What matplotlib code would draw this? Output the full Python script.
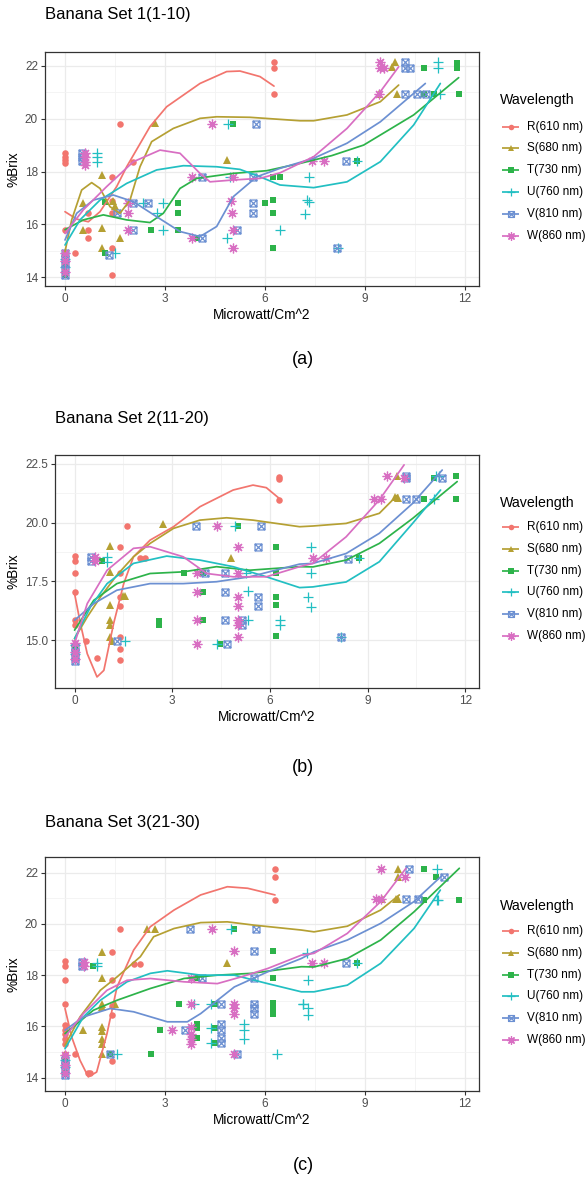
import numpy as np
import matplotlib.pyplot as plt
from matplotlib.path import Path

plt.rcParams['font.family'] = ['Liberation Sans', 'DejaVu Sans']

# ---------------- data ----------------
series = ["R(610 nm)", "S(680 nm)", "T(730 nm)", "U(760 nm)", "V(810 nm)", "W(860 nm)"]
colors = ["#F2756E", "#B5A033", "#2DB34A", "#22BFC2", "#6C90D2", "#D86EC2"]

# Set 1 points
s1_R_pts = [(0, 18.71), (0, 18.56), (0, 18.44), (0, 18.31), (0, 15.79), (0, 14.2), (0, 14.9), (0.3, 14.9),
            (0.7, 16.42), (0.7, 15.79), (0.7, 15.5), (1.4, 17.8), (1.4, 16.9), (1.4, 16.42), (1.4, 15.1),
            (1.4, 14.1), (1.65, 19.8), (2.05, 18.37), (6.27, 22.13), (6.27, 21.9), (6.27, 20.92)]
s1_S_pts = [(0, 14.3), (0, 14.9), (0.55, 16.82), (0.55, 15.8), (1.1, 17.87), (1.1, 15.85), (1.1, 15.1),
            (1.45, 16.9), (1.5, 16.7), (1.65, 15.5), (2.7, 19.82), (4.85, 18.44), (9.91, 22.13),
            (9.8, 21.96), (9.41, 20.92), (9.96, 20.92)]
s1_T_pts = [(0, 14.1), (0, 14.5), (1.2, 14.9), (1.2, 16.86), (2.57, 15.8), (3.4, 16.82), (3.4, 16.42),
            (3.4, 15.8), (3.95, 15.5), (5.03, 19.8), (6.0, 16.82), (6.23, 16.92), (6.23, 16.42),
            (6.23, 15.1), (6.23, 17.8), (6.45, 17.8), (8.76, 18.4), (10.76, 21.9), (11.76, 22.1),
            (11.76, 21.9), (11.81, 20.92), (10.76, 20.92), (11.08, 20.92)]
s1_U_pts = [(0, 14.4), (0, 14.7), (0.95, 18.71), (0.95, 18.54), (0.95, 18.37), (1.5, 14.9), (2.35, 16.8),
            (2.75, 16.42), (2.95, 16.8), (2.95, 15.8), (4.85, 15.5), (4.9, 19.8), (4.95, 17.8),
            (6.45, 15.79), (7.31, 17.8), (7.25, 16.92), (7.31, 16.86), (7.21, 16.38), (8.2, 15.1),
            (8.76, 18.4), (11.18, 22.13), (11.18, 21.9), (11.26, 20.92)]
s1_V_pts = [(0, 14.1), (0, 14.3), (0, 14.5), (0, 14.7), (0, 14.9), (0.5, 18.7), (0.5, 18.56), (0.5, 18.4),
            (1.33, 14.85), (1.57, 16.42), (2.05, 16.8), (2.05, 15.8), (2.5, 16.8), (4.12, 15.5),
            (4.12, 17.8), (5.15, 15.8), (5.72, 19.8), (5.65, 16.82), (5.65, 16.42), (5.65, 17.8),
            (8.15, 15.1), (8.43, 18.4), (10.21, 22.13), (10.21, 21.9), (10.35, 21.9), (10.21, 20.92),
            (10.57, 20.92), (10.82, 20.92)]
s1_W_pts = [(0, 14.2), (0, 14.6), (0, 14.9), (0.6, 18.7), (0.6, 18.54), (0.6, 18.37), (0.6, 18.25),
            (1.9, 16.42), (1.9, 16.8), (1.9, 15.8), (3.8, 17.8), (3.8, 15.5), (4.4, 19.8), (4.97, 16.9),
            (5.0, 16.42), (5.03, 15.8), (5.03, 15.1), (5.05, 17.8), (7.4, 18.4), (7.76, 18.4),
            (9.46, 22.13), (9.46, 21.9), (9.56, 21.9), (9.41, 20.92)]

# Set 1 smooth curves
s1_R_fit = [(0, 16.48), (0.35, 16.2), (0.7, 16.1), (1.05, 16.48), (1.55, 17.43), (1.85, 18.18), (2.55, 19.7),
            (3.05, 20.45), (4.05, 21.33), (4.85, 21.78), (5.25, 21.8), (5.85, 21.59), (6.27, 21.23)]
s1_S_fit = [(0, 14.97), (0.2, 16.17), (0.5, 17.3), (0.8, 17.58), (1.05, 17.36), (1.35, 16.67), (1.65, 16.42),
            (1.95, 16.92), (2.25, 18.18), (2.6, 19.13), (3.25, 19.63), (4.05, 20.01), (4.55, 20.07),
            (5.55, 20.05), (7.05, 19.92), (7.46, 19.92), (8.46, 20.14), (9.46, 20.64), (10.01, 21.27)]
s1_T_fit = [(0, 15.8), (0.55, 16.17), (1.15, 16.36), (1.85, 16.17), (2.55, 16.07), (2.95, 16.42),
            (3.45, 17.36), (3.95, 17.74), (5.05, 17.93), (6.05, 18.03), (7.06, 18.31), (8.0, 18.6),
            (8.96, 19.0), (10.46, 20.14), (11.81, 21.55)]
s1_U_fit = [(0, 15.22), (0.45, 16.17), (1.05, 16.92), (1.85, 17.55), (2.75, 18.06), (3.55, 18.22),
            (4.55, 18.18), (5.25, 18.08), (5.85, 17.8), (6.45, 17.49), (7.46, 17.39), (8.46, 17.61),
            (9.46, 18.37), (10.46, 19.76), (11.26, 21.33)]
s1_V_fit = [(0, 15.41), (0.35, 16.42), (0.85, 16.92), (1.45, 17.11), (2.05, 16.86), (2.75, 16.29),
            (3.45, 15.73), (4.05, 15.54), (4.55, 15.92), (5.05, 17.05), (5.75, 17.8), (6.45, 18.12),
            (7.46, 18.5), (8.46, 19.07), (9.46, 19.88), (10.81, 21.33)]
s1_W_fit = [(0, 15.66), (0.55, 16.55), (1.25, 17.43), (2.05, 18.37), (2.85, 18.81), (3.45, 18.69),
            (4.05, 17.93), (4.35, 17.61), (5.05, 17.68), (5.85, 17.74), (6.45, 17.95), (7.46, 18.56),
            (8.46, 19.63), (9.46, 21.02), (10.01, 21.96)]

# Set 2 points
s2_R_pts = [(0, 18.59), (0, 18.38), (0, 17.84), (0, 17.06), (0, 15.85), (0, 15.64), (0, 14.86), (0.34, 14.97),
            (0.69, 14.25), (1.41, 18.98), (1.41, 17.87), (1.39, 16.85), (1.39, 16.45), (1.41, 15.14),
            (1.41, 14.64), (1.41, 14.15), (1.61, 19.86), (2.02, 18.48), (2.17, 18.48), (6.28, 21.93),
            (6.28, 21.85), (6.28, 20.97)]
s2_S_pts = [(0, 14.9), (1.1, 19.02), (1.1, 17.91), (1.1, 16.49), (1.1, 15.85), (1.1, 15.64), (1.1, 15.14),
            (1.15, 14.97), (1.49, 16.87), (1.54, 16.87), (2.71, 19.93), (4.81, 18.5), (9.89, 21.99),
            (9.92, 21.04), (9.85, 21.1)]
s2_T_pts = [(0, 14.2), (0, 14.6), (0.85, 18.37), (2.58, 15.82), (2.58, 15.64), (3.37, 17.87), (3.96, 17.87),
            (3.96, 17.06), (3.96, 15.85), (4.46, 14.86), (5.03, 19.86), (6.18, 18.98), (6.18, 17.87),
            (6.18, 16.85), (6.18, 16.49), (6.18, 15.17), (8.75, 18.48), (10.73, 21.0), (11.04, 21.92),
            (11.7, 21.99), (11.72, 21.0)]
s2_U_pts = [(0, 14.4), (0, 14.8), (1.0, 18.55), (1.0, 18.34), (1.56, 14.97), (4.36, 14.83), (4.92, 19.86),
            (5.28, 17.87), (5.33, 17.09), (5.33, 15.85), (6.3, 15.85), (6.3, 15.64), (7.27, 18.97),
            (7.27, 17.87), (7.17, 16.85), (7.27, 16.43), (8.19, 15.14), (8.75, 18.48), (11.09, 21.99),
            (11.2, 21.99), (11.04, 21.0)]
s2_V_pts = [(0, 14.1), (0, 14.3), (0, 14.5), (0, 14.7), (0.51, 18.55), (0.51, 18.38), (1.3, 14.97),
            (3.73, 19.86), (4.0, 17.87), (4.62, 17.87), (4.62, 17.06), (4.62, 15.85), (4.67, 14.86),
            (5.13, 15.85), (5.13, 15.64), (5.74, 19.86), (5.64, 18.98), (5.64, 16.85), (5.64, 16.45),
            (8.19, 15.14), (8.41, 18.45), (10.17, 21.99), (10.17, 21.9), (10.17, 21.0), (10.48, 21.0),
            (11.29, 21.89)]
s2_W_pts = [(0, 14.2), (0, 14.5), (0, 14.9), (0.64, 18.55), (0.64, 18.38), (3.77, 17.06), (3.77, 15.85),
            (3.77, 14.83), (4.36, 19.86), (3.75, 17.87), (5.03, 18.98), (5.03, 17.87), (5.03, 16.85),
            (5.03, 16.45), (5.03, 15.85), (5.03, 15.64), (5.03, 15.14), (7.32, 18.48), (7.73, 18.48),
            (9.2, 21.0), (9.41, 21.0), (9.58, 21.99), (10.12, 21.9)]

# Set 2 smooth curves
s2_R_fit = [(0, 16.99), (0.18, 15.71), (0.39, 14.43), (0.69, 13.44), (0.9, 13.72), (1.2, 15.71),
            (1.51, 17.41), (1.81, 18.55), (2.32, 19.26), (3.04, 19.83), (3.85, 20.68), (4.87, 21.39),
            (5.48, 21.6), (5.89, 21.49), (6.28, 21.04)]
s2_S_fit = [(0, 15.07), (0.39, 15.99), (0.8, 16.85), (1.3, 17.77), (1.81, 18.55), (2.32, 19.12),
            (3.04, 19.76), (3.85, 20.11), (4.67, 20.21), (5.48, 20.11), (6.91, 19.83), (7.32, 19.86),
            (8.34, 19.97), (9.36, 20.4), (9.92, 21.18)]
s2_T_fit = [(0, 15.43), (0.59, 16.7), (1.3, 17.41), (2.32, 17.84), (3.34, 17.91), (4.36, 18.13),
            (5.38, 17.98), (6.91, 18.13), (7.32, 18.12), (8.34, 18.41), (9.36, 19.12), (10.38, 20.18),
            (11.75, 21.75)]
s2_U_fit = [(0, 15.07), (0.49, 16.42), (1.0, 17.41), (1.81, 18.27), (2.83, 18.58), (3.85, 18.41),
            (4.87, 18.13), (5.89, 17.7), (6.91, 17.24), (7.32, 17.27), (8.34, 17.48), (9.36, 18.34),
            (10.38, 19.97), (11.24, 21.39)]
s2_V_fit = [(0, 15.85), (0.59, 16.56), (1.3, 17.13), (2.32, 17.41), (3.34, 17.41), (4.36, 17.49),
            (5.38, 17.7), (6.91, 18.24), (7.32, 18.27), (8.34, 18.69), (9.36, 19.55), (10.38, 20.82),
            (11.29, 22.24)]
s2_W_fit = [(0, 14.86), (0.39, 16.56), (1.0, 17.98), (1.81, 18.91), (2.32, 18.98), (3.34, 18.55),
            (4.06, 17.84), (4.87, 17.7), (5.89, 17.7), (6.91, 18.13), (7.32, 18.27), (8.34, 19.4),
            (9.36, 20.97), (10.12, 22.46)]

# Set 3 points
s3_R_pts = [(0, 18.56), (0, 18.36), (0, 17.8), (0, 16.87), (0, 16.05), (0, 15.85), (0, 15.72), (0, 15.52),
            (0, 15.33), (0, 14.94), (0.3, 14.94), (0.7, 14.18), (0.75, 14.18), (1.41, 18.91), (1.41, 17.83),
            (1.41, 16.79), (1.41, 16.44), (1.41, 14.64), (1.66, 19.8), (2.06, 18.43), (2.26, 18.43),
            (6.3, 22.13), (6.3, 21.82), (6.3, 20.93)]
s3_S_pts = [(0, 14.9), (0.55, 15.85), (1.1, 18.91), (1.1, 17.87), (1.1, 16.87), (1.1, 16.76), (1.1, 15.98),
            (1.1, 15.82), (1.1, 15.52), (1.1, 15.33), (1.1, 14.94), (1.51, 16.87), (2.46, 19.82),
            (2.71, 19.82), (4.87, 18.46), (9.99, 22.14), (9.99, 21.82), (9.92, 20.96), (9.99, 20.96),
            (9.5, 20.96)]
s3_T_pts = [(0, 14.2), (0, 14.6), (0.85, 18.36), (1.35, 14.94), (2.58, 14.94), (2.84, 15.85), (3.42, 16.87),
            (3.97, 17.87), (3.97, 16.08), (3.97, 15.92), (3.97, 15.55), (4.49, 16.87), (4.49, 15.92),
            (4.49, 15.35), (5.06, 19.82), (6.23, 18.94), (6.23, 17.87), (6.23, 16.9), (6.23, 16.7),
            (6.23, 16.5), (8.77, 18.46), (10.78, 22.13), (11.13, 21.82), (10.78, 20.94), (11.83, 20.94)]
s3_U_pts = [(0, 14.4), (0, 14.7), (0.95, 18.46), (0.95, 18.36), (1.56, 14.94), (3.87, 16.87), (4.37, 16.87),
            (4.37, 15.92), (4.37, 15.35), (4.97, 19.82), (5.38, 16.08), (5.38, 15.85), (5.38, 15.52),
            (6.36, 14.94), (7.13, 16.87), (7.27, 18.85), (7.3, 17.8), (7.15, 16.89), (7.3, 16.7),
            (7.3, 16.44), (8.77, 18.46), (11.15, 22.13), (11.15, 20.94), (11.2, 20.94)]
s3_V_pts = [(0, 14.1), (0, 14.3), (0, 14.5), (0, 14.7), (0.5, 18.52), (0.5, 18.36), (1.35, 14.94),
            (3.74, 19.82), (3.6, 15.85), (4.1, 17.87), (4.67, 16.87), (4.67, 16.08), (4.67, 15.85),
            (4.67, 15.56), (4.67, 15.35), (5.16, 14.94), (5.73, 19.82), (5.66, 18.94), (5.66, 17.87),
            (5.66, 16.87), (5.66, 16.7), (5.66, 16.5), (8.44, 18.46), (10.33, 22.13), (10.23, 20.96),
            (10.58, 20.96), (11.36, 21.82)]
s3_W_pts = [(0, 14.2), (0, 14.5), (0, 14.9), (0.58, 18.52), (0.58, 18.36), (3.21, 15.85), (3.79, 17.87),
            (3.79, 16.87), (3.79, 15.98), (3.79, 15.72), (3.79, 15.52), (3.79, 15.33), (4.42, 19.82),
            (5.06, 18.94), (5.06, 16.87), (5.06, 16.7), (5.06, 16.5), (5.06, 14.94), (7.42, 18.46),
            (7.77, 18.46), (9.47, 22.13), (9.34, 20.96), (9.47, 20.96), (10.2, 21.82)]

# Set 3 smooth curves
s3_R_fit = [(0, 16.7), (0.2, 15.59), (0.45, 14.68), (0.7, 14.03), (0.95, 14.22), (1.26, 15.72),
            (1.56, 17.54), (2.06, 18.98), (2.56, 19.89), (3.27, 20.54), (4.07, 21.13), (4.87, 21.45),
            (5.48, 21.39), (6.3, 21.13)]
s3_S_fit = [(0, 15.26), (0.45, 16.37), (1.06, 17.41), (1.56, 17.93), (2.26, 18.72), (2.66, 19.5),
            (3.27, 19.82), (4.07, 20.05), (4.87, 20.08), (5.68, 19.95), (7.09, 19.76), (7.47, 19.69),
            (8.47, 19.91), (9.47, 20.54), (10.03, 21.13)]
s3_T_fit = [(0, 15.72), (0.85, 16.63), (1.56, 17.02), (2.56, 17.48), (3.57, 17.87), (4.57, 18.0),
            (5.58, 18.07), (7.09, 18.33), (7.47, 18.32), (8.47, 18.65), (9.47, 19.37), (10.47, 20.47),
            (11.83, 22.17)]
s3_U_fit = [(0, 15.13), (0.55, 16.37), (1.06, 17.02), (1.86, 17.74), (2.56, 18.07), (3.07, 18.17),
            (4.07, 18.0), (5.08, 18.0), (6.08, 17.67), (7.09, 17.35), (7.47, 17.35), (8.47, 17.61),
            (9.47, 18.46), (10.47, 19.82), (11.26, 21.32)]
s3_V_fit = [(0, 15.85), (0.55, 16.37), (1.36, 16.7), (2.06, 16.57), (3.07, 16.18), (3.67, 16.18),
            (4.07, 16.5), (5.08, 17.54), (6.08, 18.13), (7.09, 18.65), (7.47, 18.91), (8.47, 19.37),
            (9.47, 20.02), (10.47, 20.87), (11.33, 21.91)]
s3_W_fit = [(0, 15.59), (0.55, 16.5), (1.26, 17.41), (1.86, 17.8), (2.56, 17.87), (3.57, 17.74),
            (4.57, 17.67), (5.28, 17.93), (6.08, 18.26), (7.09, 18.78), (7.47, 18.85), (8.47, 19.63),
            (9.47, 20.87), (10.23, 22.17)]

titles = ["Banana Set 1(1-10)", "Banana Set 2(11-20)", "Banana Set 3(21-30)"]
captions = ["(a)", "(b)", "(c)"]
x_ticks = [0, 3, 6, 9, 12]
y_ticks_1 = [14, 16, 18, 20, 22]
y_ticks_2 = [15.0, 17.5, 20.0, 22.5]
y_ticks_3 = [14, 16, 18, 20, 22]

# ---------------- markers ----------------
box_x = Path([(-1, -1), (1, -1), (1, 1), (-1, 1), (-1, -1), (-1, -1), (1, 1), (-1, 1), (1, -1)],
             [Path.MOVETO, Path.LINETO, Path.LINETO, Path.LINETO, Path.CLOSEPOLY,
              Path.MOVETO, Path.LINETO, Path.MOVETO, Path.LINETO])
markers = ['o', '^', 's', '+', box_x, (8, 2, 0)]
msizes = [4.7, 5.2, 4.3, 7.5, 5.0, 7.0]
filled = [True, True, True, False, False, False]

W, H = 587, 1190
fig = plt.figure(figsize=(W / 100, H / 100), dpi=100)


def px_axes(left, top, right, bottom):
    return fig.add_axes([left / W, 1 - bottom / H, (right - left) / W, (bottom - top) / H])


def draw_panel(ax, pts, fits, yticks, ylim, ytfmt):
    for i in range(6):
        px = [p[0] for p in pts[i]]
        py = [p[1] for p in pts[i]]
        c = colors[i]
        if filled[i]:
            ax.plot(px, py, ls='none', marker=markers[i], ms=msizes[i], color=c, mec=c, mew=0)
        else:
            ax.plot(px, py, ls='none', marker=markers[i], ms=msizes[i], color=c, mfc='none', mec=c, mew=0.9)
    for i in range(6):
        fx = [p[0] for p in fits[i]]
        fy = [p[1] for p in fits[i]]
        ax.plot(fx, fy, color=colors[i], lw=1.25, solid_capstyle='round', solid_joinstyle='round')
    ax.set_xlim(-0.6, 12.42)
    ax.set_ylim(*ylim)
    ax.set_xticks(x_ticks)
    ax.set_yticks(yticks)
    ax.set_yticklabels([ytfmt.format(v) for v in yticks])
    ax.set_xticks([1.5, 4.5, 7.5, 10.5], minor=True)
    ax.set_yticks([(a + b) / 2 for a, b in zip(yticks[:-1], yticks[1:])], minor=True)
    ax.grid(True, which='major', color='#EBEBEB', lw=0.9)
    ax.grid(True, which='minor', color='#F3F3F3', lw=0.6)
    ax.set_axisbelow(True)
    for s in ax.spines.values():
        s.set_color('#333333')
        s.set_linewidth(0.9)
    ax.tick_params(which='major', length=3, color='#333333', labelsize=8.5, labelcolor='#4D4D4D', pad=2)
    ax.tick_params(which='minor', length=0)
    ax.set_xlabel("Microwatt/Cm^2", fontsize=9.8, color='black', labelpad=2)
    ax.set_ylabel("%Brix", fontsize=9.8, color='black', labelpad=3)


panel_boxes = [(45, 52, 479, 286), (55, 455, 479, 688), (45, 857, 479, 1091)]
ylims = [(13.67, 22.52), (12.97, 22.88), (13.48, 22.61)]
yticks_all = [y_ticks_1, y_ticks_2, y_ticks_3]
fmts = ["{:g}", "{:.1f}", "{:g}"]
all_pts = [[s1_R_pts, s1_S_pts, s1_T_pts, s1_U_pts, s1_V_pts, s1_W_pts],
           [s2_R_pts, s2_S_pts, s2_T_pts, s2_U_pts, s2_V_pts, s2_W_pts],
           [s3_R_pts, s3_S_pts, s3_T_pts, s3_U_pts, s3_V_pts, s3_W_pts]]
all_fits = [[s1_R_fit, s1_S_fit, s1_T_fit, s1_U_fit, s1_V_fit, s1_W_fit],
            [s2_R_fit, s2_S_fit, s2_T_fit, s2_U_fit, s2_V_fit, s2_W_fit],
            [s3_R_fit, s3_S_fit, s3_T_fit, s3_U_fit, s3_V_fit, s3_W_fit]]
title_y = [15, 418, 822]
legend_title_y = [100, 503, 906]
legend_first_y = [126.7, 527, 931]
caption_y = [360, 767, 1165]
title_x = [45, 55, 45]
entry_gap = 21.8

for k in range(3):
    ax = px_axes(*panel_boxes[k])
    draw_panel(ax, all_pts[k], all_fits[k], yticks_all[k], ylims[k], fmts[k])
    fig.text(title_x[k] / W, 1 - title_y[k] / H, titles[k], fontsize=12, va='center', ha='left')
    fig.text(303 / W, 1 - caption_y[k] / H, captions[k], fontsize=13, va='center', ha='center')
    fig.text(500 / W, 1 - legend_title_y[k] / H, "Wavelength", fontsize=10.2, va='center', ha='left')
    # legend: key (line + marker) and label per series
    kax = px_axes(495, legend_first_y[k] - entry_gap / 2, 587, legend_first_y[k] + 5.5 * entry_gap)
    kax.set_xlim(0, 92)
    kax.set_ylim(6 * entry_gap, 0)
    kax.axis('off')
    for i in range(6):
        yy = entry_gap / 2 + i * entry_gap
        kax.plot([7, 24], [yy, yy], color=colors[i], lw=1.25, solid_capstyle='butt')
        if filled[i]:
            kax.plot([15.5], [yy], ls='none', marker=markers[i], ms=msizes[i] * 0.85, color=colors[i], mew=0)
        else:
            kax.plot([15.5], [yy], ls='none', marker=markers[i], ms=msizes[i] * 0.85, color=colors[i],
                     mfc='none', mew=0.9)
        kax.text(32, yy, series[i], fontsize=8.5, va='center', ha='left')

fig.savefig("out.png", dpi=100)
